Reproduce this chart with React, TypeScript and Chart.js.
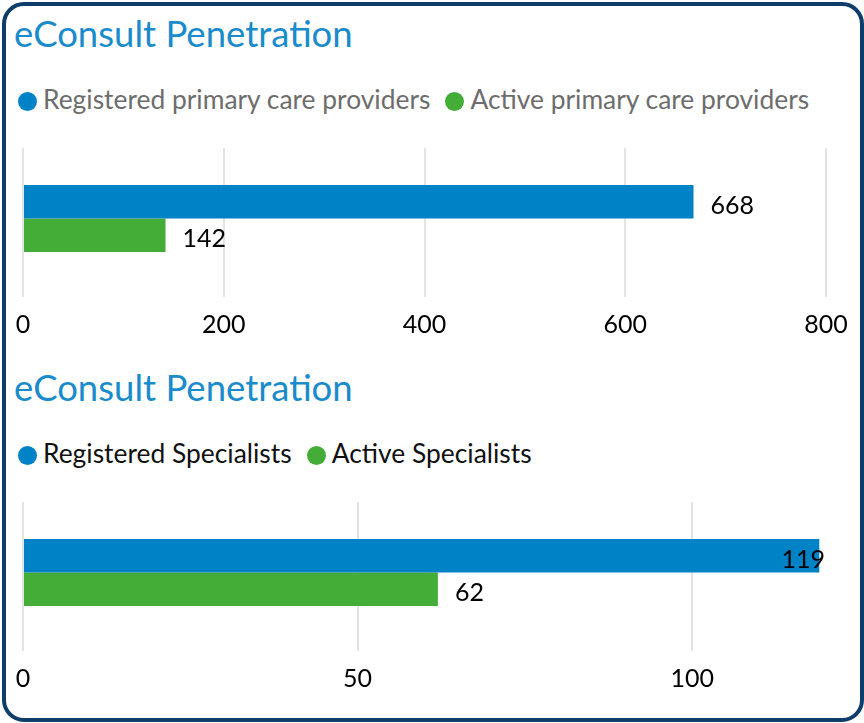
import React, { useEffect, useRef } from "react";
import { Chart, registerables } from "chart.js";

Chart.register(...registerables);

const FONT = "Lato, 'Open Sans', sans-serif";

// ---- Data ----
const titleText = "eConsult Penetration";

const pcpCategories = ["Primary care providers"];
const pcpSeriesNames = ["Registered primary care providers", "Active primary care providers"];
const pcpRegistered = [668];
const pcpActive = [142];
const pcpAxisMax = 800;
const pcpAxisStep = 200;

const specCategories = ["Specialists"];
const specSeriesNames = ["Registered Specialists", "Active Specialists"];
const specRegistered = [119];
const specActive = [62];
const specAxisMax = 120;
const specAxisStep = 50;

const seriesColors = ["#0082C6", "#44AD37"];

const valueLabels = {
  id: "valueLabels",
  afterDatasetsDraw(chart: any) {
    const { ctx, chartArea } = chart;
    ctx.save();
    ctx.font = `25px ${FONT}`;
    ctx.fillStyle = "#000";
    ctx.textBaseline = "middle";
    ctx.textAlign = "left";
    chart.data.datasets.forEach((ds: any, i: number) => {
      const meta = chart.getDatasetMeta(i);
      meta.data.forEach((bar: any, j: number) => {
        const text = String(ds.data[j]);
        const w = ctx.measureText(text).width;
        const x = Math.min(bar.x + 17, chartArea.right - w - 1);
        ctx.fillText(text, x, bar.y + 4);
      });
    });
    ctx.restore();
  },
};

type SectionProps = {
  top: number;
  categories: string[];
  names: string[];
  registered: number[];
  active: number[];
  max: number;
  step: number;
  legendColor: string;
};

function Section({ top, categories, names, registered, active, max, step, legendColor }: SectionProps) {
  const ref = useRef<HTMLCanvasElement | null>(null);

  useEffect(() => {
    if (!ref.current) return;
    const chart = new Chart(ref.current, {
      type: "bar",
      data: {
        labels: categories,
        datasets: [
          {
            label: names[0],
            data: registered,
            backgroundColor: seriesColors[0],
            barPercentage: 1,
            categoryPercentage: 0.475,
          },
          {
            label: names[1],
            data: active,
            backgroundColor: seriesColors[1],
            barPercentage: 1,
            categoryPercentage: 0.475,
          },
        ],
      },
      options: {
        indexAxis: "y",
        animation: false,
        responsive: false,
        events: [],
        layout: { padding: { top: 18, left: 23, right: 38, bottom: 5 } },
        plugins: {
          legend: { display: false },
          title: { display: false },
          tooltip: { enabled: false },
        },
        scales: {
          x: {
            min: 0,
            max: max,
            ticks: {
              stepSize: step,
              includeBounds: false,
              padding: 13,
              color: "#000",
              maxRotation: 0,
              font: { family: FONT, size: 25 },
            },
            grid: { color: "#e4e4e4", lineWidth: 2, tickLength: 8, drawTicks: true },
            border: { display: false },
            afterFit: (s: any) => {
              s.height = 60;
            },
          },
          y: { display: false },
        },
      } as any,
      plugins: [valueLabels],
    });
    return () => chart.destroy();
  }, []);

  return (
    <div style={{ position: "absolute", left: 0, top, width: 864, height: 354 }}>
      <div
        style={{
          position: "absolute",
          left: 14,
          top: 15,
          fontSize: 36.5,
          lineHeight: "36.5px",
          color: "#1A8BCB",
          whiteSpace: "nowrap",
        }}
      >
        {titleText}
      </div>
      <div
        style={{
          position: "absolute",
          left: 18,
          top: 86,
          height: 26,
          display: "flex",
          alignItems: "center",
          fontSize: 26.4,
          lineHeight: "26px",
          color: legendColor,
          whiteSpace: "nowrap",
        }}
      >
        {names.map((n, i) => (
          <React.Fragment key={n}>
            <span
              style={{
                display: "inline-block",
                width: 19,
                height: 19,
                borderRadius: "50%",
                background: seriesColors[i],
                marginTop: 4,
                marginRight: 6,
              }}
            />
            <span style={{ marginRight: 15 }}>{n}</span>
          </React.Fragment>
        ))}
      </div>
      <canvas
        ref={ref}
        width={864}
        height={224}
        style={{ position: "absolute", left: 0, top: 130, width: 864, height: 224, display: "block" }}
      />
    </div>
  );
}

export default function App() {
  return (
    <div
      style={{
        position: "absolute",
        left: 0,
        top: 0,
        width: 864,
        height: 723,
        background: "#fff",
        fontFamily: FONT,
        overflow: "hidden",
      }}
    >
      <div
        style={{
          position: "absolute",
          left: 2,
          top: 2,
          width: 862,
          height: 720,
          boxSizing: "border-box",
          border: "4px solid #0E3D69",
          borderRadius: 22,
        }}
      />
      <Section
        top={0}
        categories={pcpCategories}
        names={pcpSeriesNames}
        registered={pcpRegistered}
        active={pcpActive}
        max={pcpAxisMax}
        step={pcpAxisStep}
        legendColor="#6D6D6D"
      />
      <Section
        top={354}
        categories={specCategories}
        names={specSeriesNames}
        registered={specRegistered}
        active={specActive}
        max={specAxisMax}
        step={specAxisStep}
        legendColor="#111"
      />
    </div>
  );
}
